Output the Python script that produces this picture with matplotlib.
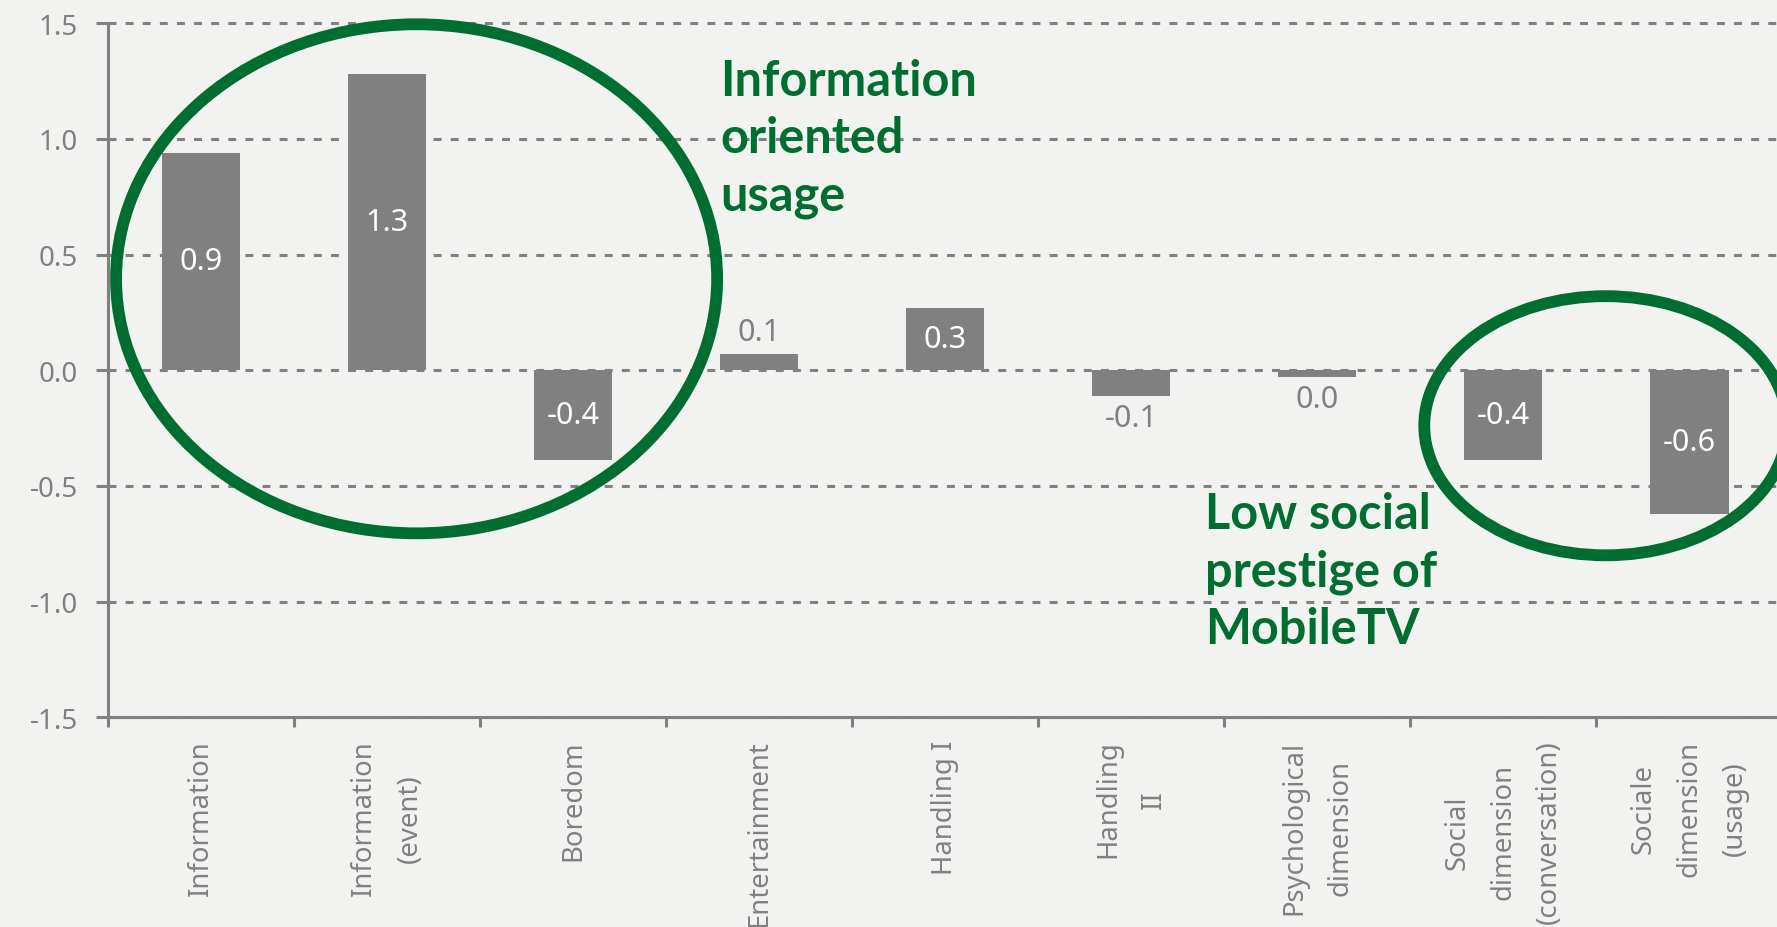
import matplotlib.pyplot as plt
from matplotlib.patches import Ellipse
from matplotlib.ticker import FixedLocator, NullFormatter

plt.rcParams['font.family'] = ['Noto Sans', 'DejaVu Sans']

# factor scores per usage motive
categories = ['Information', 'Information\n(event)', 'Boredom', 'Entertainment',
              'Handling I', 'Handling\nII', 'Psychological\ndimension',
              'Social\ndimension\n(conversation)', 'Sociale\ndimension\n(usage)']
scores = [0.94, 1.28, -0.39, 0.07, 0.27, -0.11, -0.03, -0.39, -0.62]
y_ticks = [-1.5, -1.0, -0.5, 0.0, 0.5, 1.0, 1.5]

grey = '#808080'
green = '#006e30'
bg = '#f2f2f0'

fig = plt.figure(figsize=(17.77, 9.28), dpi=100, facecolor=bg)
ax = fig.add_axes([0.0606, 0.226, 0.9425, 0.748], facecolor=bg)

x_pos = [i + 0.5 for i in range(len(categories))]
ax.bar(x_pos, scores, width=0.42, color=grey, zorder=2)

# value labels: white inside the big bars, grey outside the small ones
for x, v in zip(x_pos, scores):
    txt = f'{round(v, 1) + 0.0:.1f}'
    if abs(v) >= 0.2:
        ax.text(x, v / 2, txt, ha='center', va='center', color='white', fontsize=22, zorder=3)
    elif v >= 0:
        ax.text(x, v + 0.03, txt, ha='center', va='bottom', color=grey, fontsize=22, zorder=3)
    else:
        ax.text(x, v - 0.03, txt, ha='center', va='top', color=grey, fontsize=22, zorder=3)

ax.set_xlim(0, len(categories))
ax.set_ylim(-1.5, 1.5)
ax.set_yticks(y_ticks)
ax.set_yticklabels([f'{t:.1f}' for t in y_ticks], fontsize=20, color=grey)

# boundary ticks on the x axis, names centred between them
ax.xaxis.set_major_locator(FixedLocator(range(len(categories) + 1)))
ax.xaxis.set_major_formatter(NullFormatter())
ax.xaxis.set_minor_locator(FixedLocator(x_pos))
ax.set_xticklabels(categories, minor=True, rotation=90, fontsize=19.8, color=grey,
                   va='top', ha='center', multialignment='center', linespacing=1.85)
ax.tick_params(axis='x', which='minor', length=0, pad=16)
ax.tick_params(axis='x', which='major', length=7.2, width=2.2, color=grey)
ax.tick_params(axis='y', length=8.6, width=2.2, color=grey, pad=13)

for side in ['top', 'right']:
    ax.spines[side].set_visible(False)
for side in ['left', 'bottom']:
    ax.spines[side].set_color(grey)
    ax.spines[side].set_linewidth(2.2)
    ax.spines[side].set_zorder(4)

ax.set_axisbelow(True)
ax.yaxis.grid(True, linestyle=(0, (2.6, 3.0)), color=grey, linewidth=2.2)
for gl in ax.yaxis.get_gridlines():
    gl.set_clip_on(False)

# circled groups with their notes
ax.add_patch(Ellipse((1.66, 0.395), 3.23, 2.20, fill=False, edgecolor=green,
                     linewidth=8.5, clip_on=False, zorder=5))
ax.add_patch(Ellipse((8.05, -0.24), 1.95, 1.12, fill=False, edgecolor=green,
                     linewidth=8.5, clip_on=False, zorder=5))

note_font = ['Lato', 'DejaVu Sans']
ax.text(3.29, 0.694, 'Information\noriented\nusage', color=green, fontsize=35,
        family=note_font, fontweight='bold', ha='left', va='baseline',
        linespacing=1.33, zorder=6)
ax.text(5.895, -1.178, 'Low social\nprestige of\nMobileTV', color=green, fontsize=35,
        family=note_font, fontweight='bold', ha='left', va='baseline',
        linespacing=1.33, zorder=6)

fig.savefig('out.png', dpi=100, facecolor=bg)
